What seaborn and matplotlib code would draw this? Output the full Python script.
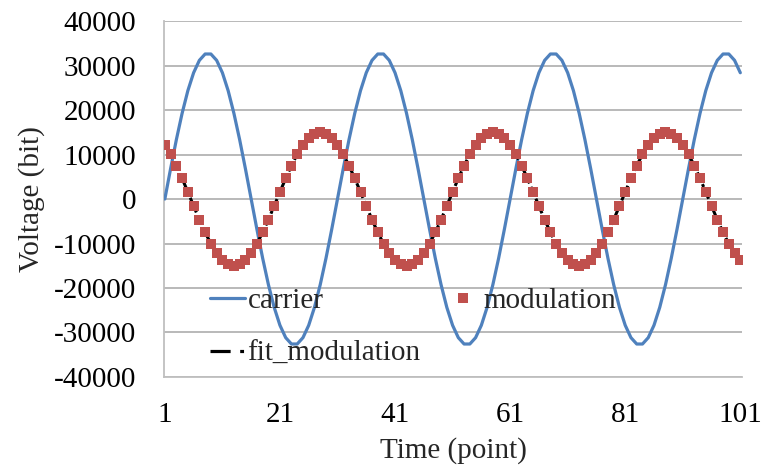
import matplotlib
matplotlib.use("Agg")
import matplotlib.pyplot as plt
import seaborn as sns
import pandas as pd
from matplotlib.lines import Line2D

# ---- data ----
time_points = list(range(1, 102))

carrier = [
    0, 6813, 13328, 19260, 24351, 28377, 31163, 32587, 32587, 31163,
    28377, 24351, 19260, 13328, 6813, 0, -6813, -13328, -19260, -24351,
    -28377, -31163, -32587, -32587, -31163, -28377, -24351, -19260, -13328, -6813,
    0, 6813, 13328, 19260, 24351, 28377, 31163, 32587, 32587, 31163,
    28377, 24351, 19260, 13328, 6813, 0, -6813, -13328, -19260, -24351,
    -28377, -31163, -32587, -32587, -31163, -28377, -24351, -19260, -13328, -6813,
    0, 6813, 13328, 19260, 24351, 28377, 31163, 32587, 32587, 31163,
    28377, 24351, 19260, 13328, 6813, 0, -6813, -13328, -19260, -24351,
    -28377, -31163, -32587, -32587, -31163, -28377, -24351, -19260, -13328, -6813,
    0, 6813, 13328, 19260, 24351, 28377, 31163, 32587, 32587, 31163,
    28377,
]

modulation = [
    12135, 10037, 7500, 4635, 1568, -1568, -4635, -7500, -10037, -12135,
    -13703, -14672, -15000, -14672, -13703, -12135, -10037, -7500, -4635, -1568,
    1568, 4635, 7500, 10037, 12135, 13703, 14672, 15000, 14672, 13703,
    12135, 10037, 7500, 4635, 1568, -1568, -4635, -7500, -10037, -12135,
    -13703, -14672, -15000, -14672, -13703, -12135, -10037, -7500, -4635, -1568,
    1568, 4635, 7500, 10037, 12135, 13703, 14672, 15000, 14672, 13703,
    12135, 10037, 7500, 4635, 1568, -1568, -4635, -7500, -10037, -12135,
    -13703, -14672, -15000, -14672, -13703, -12135, -10037, -7500, -4635, -1568,
    1568, 4635, 7500, 10037, 12135, 13703, 14672, 15000, 14672, 13703,
    12135, 10037, 7500, 4635, 1568, -1568, -4635, -7500, -10037, -12135,
    -13703,
]

fit_modulation = [
    12135, 10037, 7500, 4635, 1568, -1568, -4635, -7500, -10037, -12135,
    -13703, -14672, -15000, -14672, -13703, -12135, -10037, -7500, -4635, -1568,
    1568, 4635, 7500, 10037, 12135, 13703, 14672, 15000, 14672, 13703,
    12135, 10037, 7500, 4635, 1568, -1568, -4635, -7500, -10037, -12135,
    -13703, -14672, -15000, -14672, -13703, -12135, -10037, -7500, -4635, -1568,
    1568, 4635, 7500, 10037, 12135, 13703, 14672, 15000, 14672, 13703,
    12135, 10037, 7500, 4635, 1568, -1568, -4635, -7500, -10037, -12135,
    -13703, -14672, -15000, -14672, -13703, -12135, -10037, -7500, -4635, -1568,
    1568, 4635, 7500, 10037, 12135, 13703, 14672, 15000, 14672, 13703,
    12135, 10037, 7500, 4635, 1568, -1568, -4635, -7500, -10037, -12135,
    -13703,
]

x_ticks = [1, 21, 41, 61, 81, 101]
y_ticks = [-40000, -30000, -20000, -10000, 0, 10000, 20000, 30000, 40000]

df = pd.DataFrame({
    "time": time_points,
    "carrier": carrier,
    "modulation": modulation,
    "fit_modulation": fit_modulation,
})

# ---- styling ----
sns.set_theme(style="white")
plt.rcParams["font.family"] = ["Liberation Serif", "DejaVu Serif"]

BLUE = "#4F81BD"
RED = "#C0504D"
GRID = "#a6a6a6"
SPINE = "#bfbfbf"
FS = 21

fig = plt.figure(figsize=(7.62, 4.66), dpi=100)
ax = fig.add_axes([0.2152, 0.191, 0.9738 - 0.2152, 0.9549 - 0.191])

sns.lineplot(data=df, x="time", y="carrier", ax=ax, color=BLUE, linewidth=2.3,
             zorder=3, legend=False)
sns.lineplot(data=df, x="time", y="fit_modulation", ax=ax, color="black",
             linewidth=2.2, zorder=4, legend=False)
ax.lines[-1].set_linestyle((0, (3, 1.2, 1, 1.2)))
sns.scatterplot(data=df, x="time", y="modulation", ax=ax, color=RED, marker="s",
                s=42, linewidth=0, zorder=5, legend=False)

ax.set_xlim(0.85, 101.3)
ax.set_ylim(-40000, 40000)
ax.set_xticks(x_ticks)
ax.set_yticks(y_ticks)
ax.set_xticklabels([str(t) for t in x_ticks], fontsize=FS)
ax.set_yticklabels([str(t) for t in y_ticks], fontsize=FS)

ax.yaxis.grid(True, color=GRID, linewidth=1.1)
ax.xaxis.grid(False)
ax.set_axisbelow(True)

for side in ["top", "right"]:
    ax.spines[side].set_visible(False)
for side in ["left", "bottom"]:
    ax.spines[side].set_color(SPINE)
    ax.spines[side].set_linewidth(1.3)

ax.tick_params(axis="both", which="major", direction="out", length=7.2,
               width=1, color=SPINE, labelcolor="black")
ax.tick_params(axis="x", pad=11)
ax.tick_params(axis="y", pad=13)

ax.set_xlabel("Time (point)", fontsize=FS, labelpad=6)
ax.set_ylabel("Voltage (bit)", fontsize=FS, labelpad=6)

handles = [
    Line2D([0], [0], color=BLUE, linewidth=2.3),
    Line2D([0], [0], color="black", linewidth=2.3,
           linestyle=(0, (6.3, 3, 1.2, 10))),
    Line2D([0], [0], color=RED, marker="s", linestyle="none", markersize=6.5,
           markeredgewidth=0),
]
labels = ["carrier", "fit_modulation", "modulation"]
fig.legend(handles, labels, ncol=2, frameon=False, fontsize=FS,
           loc="upper left", bbox_to_anchor=(0.275, 0.382),
           handlelength=1.2, handletextpad=0.1, columnspacing=0.85,
           labelspacing=0.9, borderpad=0, borderaxespad=0)

fig.savefig("out.png", dpi=100)
